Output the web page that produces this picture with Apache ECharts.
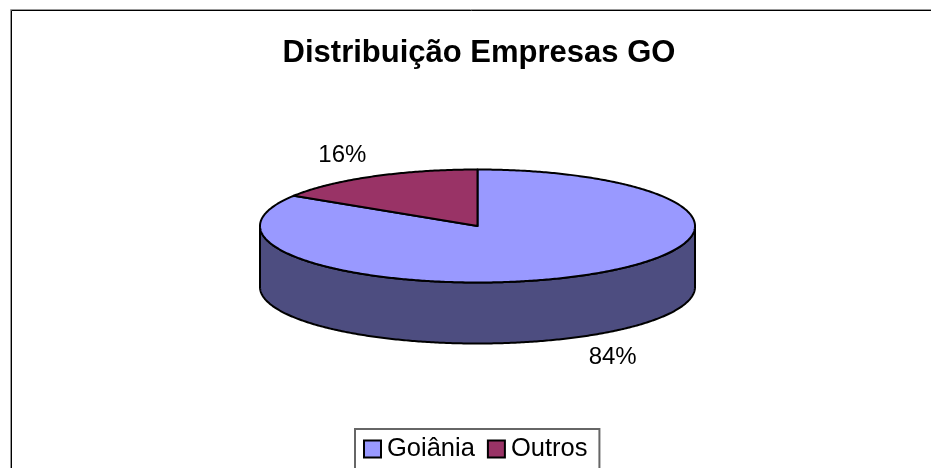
<!DOCTYPE html>
<html>
<head>
<meta charset="utf-8">
<title>Distribuição Empresas GO</title>
<style>
  html, body { margin: 0; padding: 0; background: #fff; }
  #chart { width: 931px; height: 468px; overflow: hidden; }
</style>
<script src="https://cdn.jsdelivr.net/npm/echarts@6/dist/echarts.min.js"></script>
</head>
<body>
<div id="chart"></div>
<script>
const chartTitle = 'Distribuição Empresas GO';
const categories = ['Goiânia', 'Outros'];
const values = [84, 16];
const topColors = ['#9999FF', '#993366'];
const sideColors = ['#4D4D80', '#4D1A33'];

const fontFamily = '"Liberation Sans", Arial, sans-serif';
// pie disc, in pixels
const cx = 477.5, cy = 226, rx = 217.5, ry = 56.5, depth = 61;
const total = values.reduce((a, b) => a + b, 0);

// angle is clockwise from 12 o'clock, in radians
const ellipsePoint = (a, yOffset) => [cx + rx * Math.sin(a), cy + yOffset - ry * Math.cos(a)];

const arcPoints = (from, to, yOffset) => {
    const pts = [];
    const steps = Math.max(2, Math.ceil((to - from) / 0.01));
    for (let s = 0; s <= steps; s++) {
        pts.push(ellipsePoint(from + (to - from) * s / steps, yOffset));
    }
    return pts;
};

const renderSlice = (index) => (params, api) => {
    const before = values.slice(0, index).reduce((a, b) => a + b, 0);
    const start = before / total * Math.PI * 2;
    const end = start + api.value(0) / total * Math.PI * 2;
    const mid = (start + end) / 2;
    const children = [];
    const stroke = { stroke: '#000', lineWidth: 2, lineJoin: 'round' };

    // only the front half of the wall is visible
    const wallFrom = Math.max(start, Math.PI / 2);
    const wallTo = Math.min(end, Math.PI * 1.5);
    if (wallTo > wallFrom) {
        children.push({
            type: 'polygon',
            shape: { points: arcPoints(wallFrom, wallTo, 0).concat(arcPoints(wallFrom, wallTo, depth).reverse()) },
            style: Object.assign({ fill: sideColors[index] }, stroke)
        });
    }
    children.push({
        type: 'polygon',
        shape: { points: [[cx, cy]].concat(arcPoints(start, end, 0)) },
        style: Object.assign({ fill: topColors[index] }, stroke)
    });
    const lower = Math.cos(mid) < 0;
    children.push({
        type: 'text',
        style: {
            text: Math.round(api.value(0) / total * 100) + '%',
            x: cx + rx * 1.29 * Math.sin(mid),
            y: cy - ry * 1.43 * Math.cos(mid) + (lower ? depth : 0),
            fill: '#000',
            font: '24px ' + fontFamily,
            textAlign: 'center',
            textVerticalAlign: 'middle'
        }
    });
    return { type: 'group', children: children };
};

const chart = echarts.init(document.getElementById('chart'), null, { renderer: 'canvas' });
chart.setOption({
    animation: false,
    backgroundColor: '#fff',
    title: {
        text: chartTitle,
        left: 479,
        top: 38,
        padding: 0,
        textAlign: 'center',
        textStyle: { color: '#000', fontFamily: fontFamily, fontWeight: 'bold', fontSize: 31 }
    },
    legend: {
        data: categories,
        left: 355,
        top: 429,
        orient: 'horizontal',
        backgroundColor: '#fff',
        borderColor: '#666',
        borderWidth: 2,
        padding: [7, 12, 20, 8],
        itemWidth: 17,
        itemHeight: 17,
        itemGap: 12,
        icon: 'rect',
        itemStyle: { borderColor: '#000', borderWidth: 2 },
        textStyle: { color: '#000', fontFamily: fontFamily, fontSize: 25.5, padding: [0, 0, 0, 1] },
        selectedMode: false
    },
    graphic: [
        { type: 'polyline', silent: true, shape: { points: [[10.5, 468], [10.5, 9.5], [931, 9.5]] }, style: { stroke: '#999', fill: null, lineWidth: 1 } },
        { type: 'polyline', silent: true, shape: { points: [[11.5, 468], [11.5, 10.5], [931, 10.5]] }, style: { stroke: '#000', fill: null, lineWidth: 1 } }
    ],
    series: categories.map((name, i) => ({
        name: name,
        type: 'custom',
        coordinateSystem: 'none',
        silent: true,
        itemStyle: { color: topColors[i] },
        data: [[values[i]]],
        renderItem: renderSlice(i)
    }))
});
</script>
</body>
</html>
